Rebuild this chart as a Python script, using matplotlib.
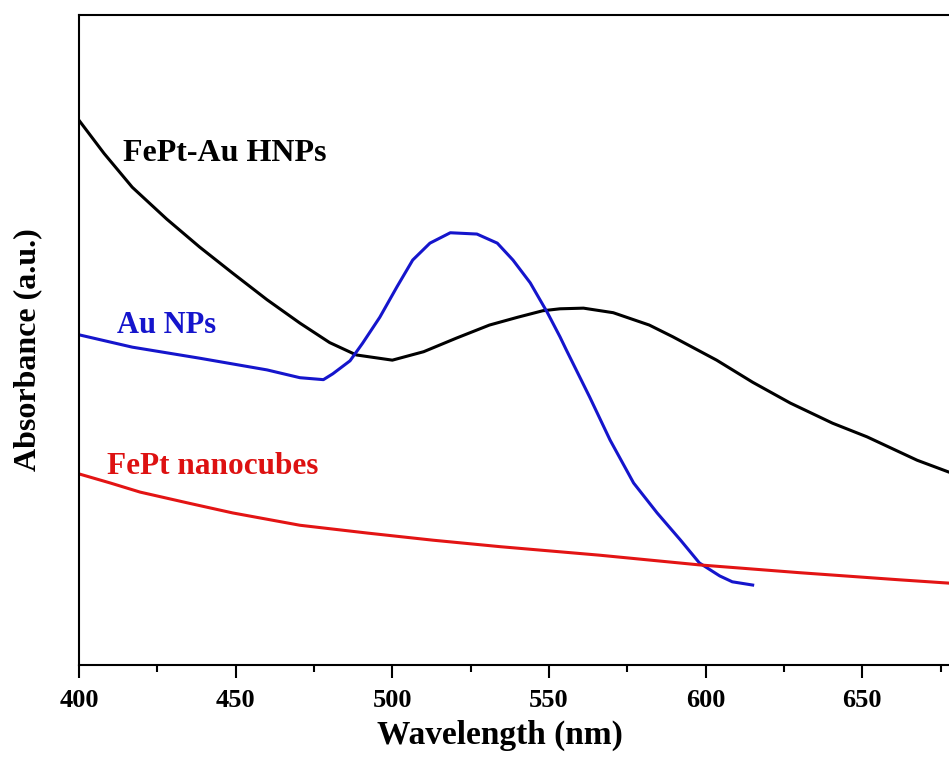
import numpy as np
import matplotlib
matplotlib.use('Agg')
import matplotlib.pyplot as plt
from matplotlib.ticker import MultipleLocator, FixedLocator

# FePt-Au HNPs
wl_hnp = [400, 408, 417, 428, 438.5, 449, 460, 470.5, 480, 488.5, 500, 510, 520.5,
          531, 540, 548, 553.5, 561, 570.5, 582, 589.5, 603.5, 615, 627, 640.5, 651.5,
          667.5, 677.5, 690, 700]
abs_hnp = [0.838, 0.787, 0.735, 0.686, 0.643, 0.603, 0.562, 0.526, 0.496, 0.477, 0.469,
           0.482, 0.503, 0.523, 0.535, 0.545, 0.548, 0.549, 0.542, 0.523, 0.505, 0.469,
           0.435, 0.403, 0.372, 0.351, 0.315, 0.297, 0.278, 0.264]

# Au NPs
wl_au = [400, 417, 438.5, 460, 470.5, 475.5, 478, 481, 486.5, 490.5, 496, 501.5, 506.5,
         512, 518.5, 527, 533.5, 538.5, 544, 549.5, 553.5, 555.5, 563, 569.5, 577, 584.5,
         592, 598, 604.5, 608.5, 615]
abs_au = [0.508, 0.489, 0.472, 0.454, 0.442, 0.440, 0.439, 0.448, 0.468, 0.495, 0.535,
          0.582, 0.623, 0.649, 0.665, 0.663, 0.649, 0.623, 0.588, 0.542, 0.505, 0.485,
          0.412, 0.346, 0.280, 0.234, 0.192, 0.157, 0.137, 0.128, 0.123]

# FePt nanocubes
wl_fept = [400, 410, 419.5, 435, 449, 470.5, 492, 513, 534.5, 566, 598, 630, 662,
           677.5, 700]
abs_fept = [0.294, 0.280, 0.266, 0.249, 0.234, 0.215, 0.203, 0.192, 0.182, 0.169, 0.154,
            0.142, 0.131, 0.126, 0.120]

major_ticks = [400, 450, 500, 550, 600, 650]

plt.rcParams['font.family'] = ['Liberation Serif', 'DejaVu Serif']
plt.rcParams['font.weight'] = 'bold'

fig = plt.figure(figsize=(9.49, 7.62), dpi=100)
# axes run past the right edge of the picture, as in the cropped original
ax = fig.add_axes([79 / 949, 97 / 762, 940 / 949, 650 / 762])

ax.plot(wl_hnp, abs_hnp, color='black', linewidth=2.2)
ax.plot(wl_au, abs_au, color='#1515cc', linewidth=2.2)
ax.plot(wl_fept, abs_fept, color='#e31414', linewidth=2.2)

ax.text(414, 0.787, 'FePt-Au HNPs', color='black', fontsize=23, fontweight='bold',
        va='center', ha='left')
ax.text(412, 0.523, 'Au NPs', color='#1515cc', fontsize=22, fontweight='bold',
        va='center', ha='left')
ax.text(409, 0.306, 'FePt nanocubes', color='#dd1111', fontsize=22.5, fontweight='bold',
        va='center', ha='left')

ax.set_xlim(400, 700)
ax.set_ylim(0, 1)
ax.xaxis.set_major_locator(FixedLocator(major_ticks))
ax.xaxis.set_minor_locator(MultipleLocator(25))
ax.tick_params(axis='x', which='major', direction='out', length=9, width=1.5,
               labelsize=19, pad=8)
ax.tick_params(axis='x', which='minor', direction='out', length=5, width=1.5)
ax.set_yticks([])
for lbl in ax.get_xticklabels():
    lbl.set_fontweight('bold')

ax.set_xlabel('Wavelength (nm)', fontsize=24, fontweight='bold', labelpad=6)
ax.xaxis.set_label_coords((500 - 79) / 940, -0.085)
ax.set_ylabel('Absorbance (a.u.)', fontsize=23, fontweight='bold')
ax.yaxis.set_label_coords(-0.039, 0.485)

for sp in ax.spines.values():
    sp.set_linewidth(1.5)

fig.savefig('out.png', dpi=100)
